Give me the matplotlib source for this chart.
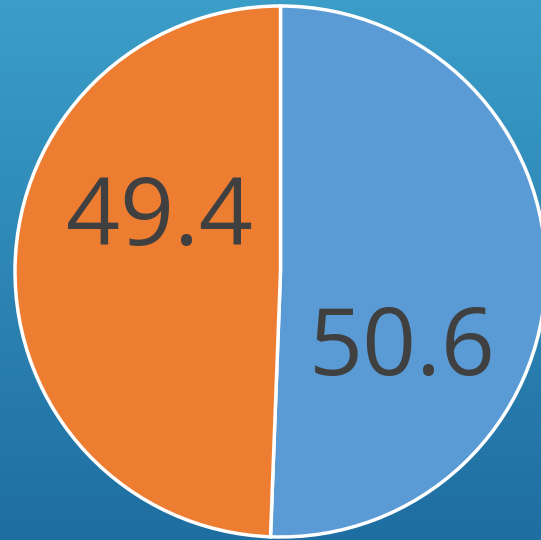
import matplotlib
matplotlib.use("Agg")
import matplotlib.pyplot as plt
import numpy as np
from matplotlib.colors import LinearSegmentedColormap

categories = ["A", "B"]
values = [50.6, 49.4]
colors = ["#5b9bd5", "#ed7d31"]

W, H = 541, 540
fig = plt.figure(figsize=(W / 100, H / 100), dpi=100)
ax = fig.add_axes([0, 0, 1, 1])
ax.set_xlim(0, W)
ax.set_ylim(0, H)
ax.set_aspect("equal")
ax.axis("off")

cmap = LinearSegmentedColormap.from_list("bg", ["#3b9ec8", "#1f6ea1"])
grad = np.linspace(0, 1, 256).reshape(-1, 1)
ax.imshow(grad, cmap=cmap, extent=[0, W, 0, H], origin="upper", aspect="auto", zorder=0)

cx, cy, r = 280.5, H - 271.5, 265.5
wedges, _ = ax.pie(values, colors=colors, startangle=90, counterclock=False,
                   center=(cx, cy), radius=r, frame=True,
                   wedgeprops=dict(edgecolor="white", linewidth=2.5))
for w in wedges:
    w.set_zorder(1)
ax.set_xlim(0, W)
ax.set_ylim(0, H)
ax.axis("off")

label_pos = [(402, H - 351), (159, H - 220)]
for v, (x, y) in zip(values, label_pos):
    ax.text(x, y, f"{v:.1f}", ha="center", va="center", fontsize=68,
            family="Open Sans", color="#404040", zorder=3)

fig.savefig("out.png", dpi=100)
